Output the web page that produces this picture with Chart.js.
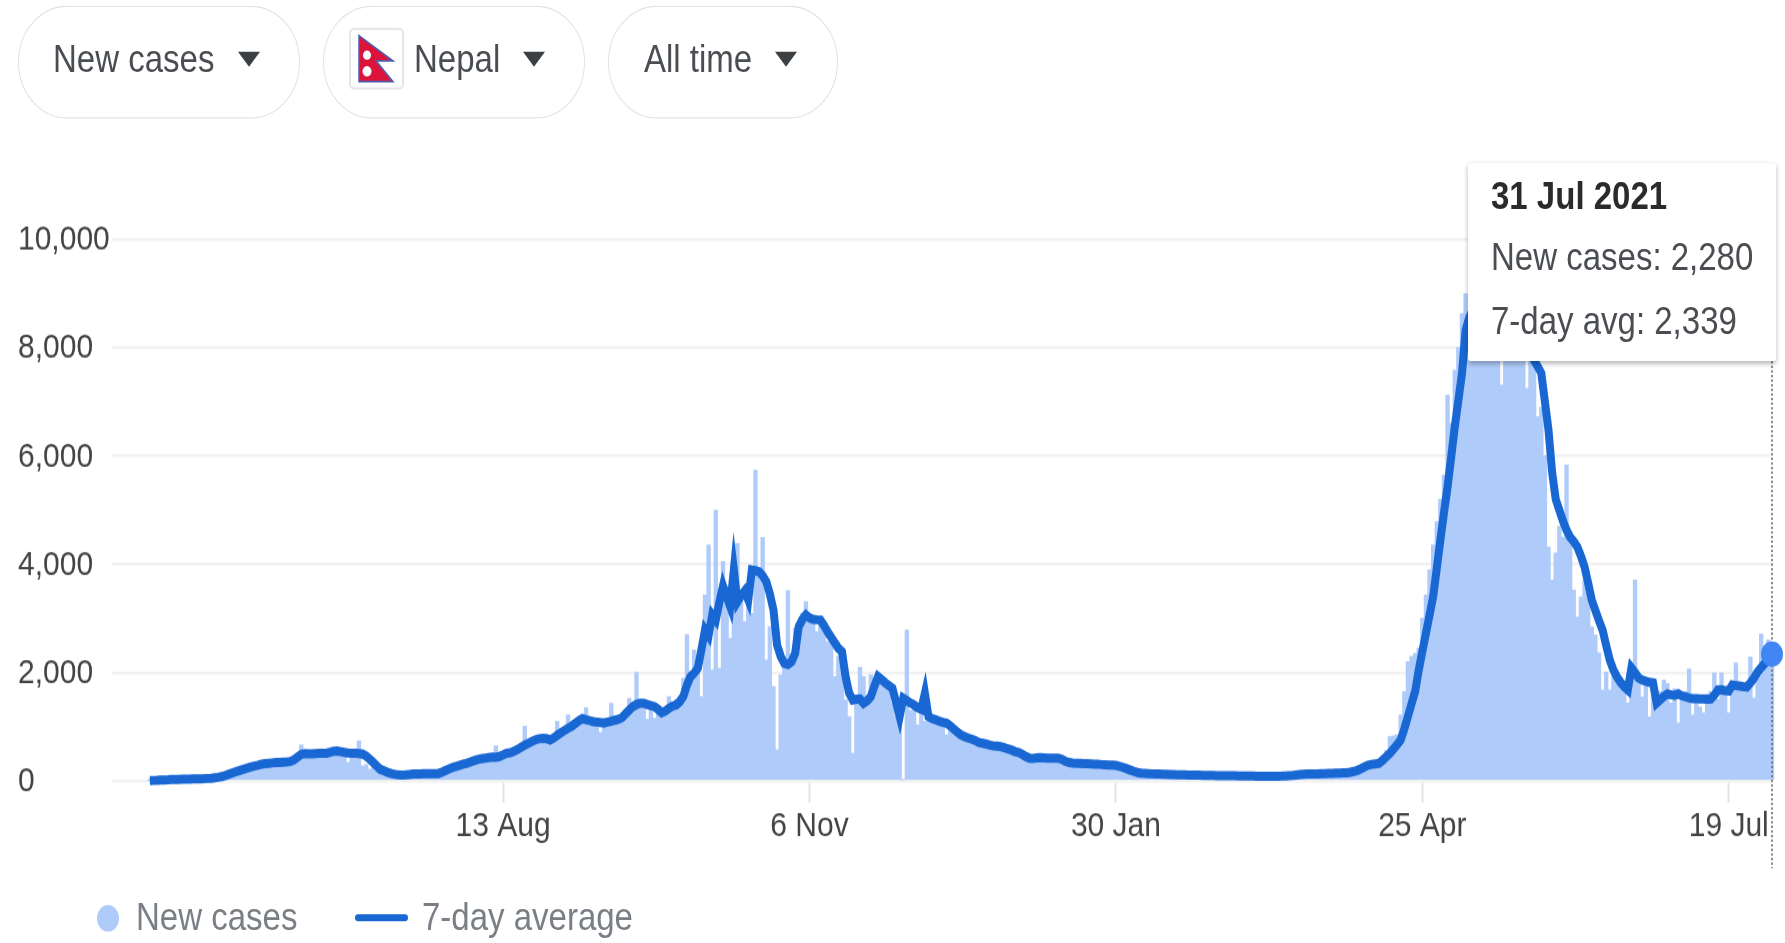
<!DOCTYPE html>
<html>
<head>
<meta charset="utf-8">
<script src="https://cdn.jsdelivr.net/npm/chart.js@4"></script>
<style>
  html, body { margin: 0; background: #fff; overflow: hidden; }
  #stage { position: absolute; left: 0; top: 0; width: 1785px; height: 820px; transform: scaleY(1.15); transform-origin: 0 0; font-family: "Liberation Sans", Arial, sans-serif; filter: blur(0.35px); }
  #myChart { position: absolute; left: 0; top: 0; }
  .pill { position: absolute; top: 5px; height: 98px; border: 1.5px solid #e0e2e6; border-radius: 52px; box-sizing: border-box; }
  .pill-text { position: absolute; top: 33px; font-size: 33px; line-height: 38px; color: #4a4d51; white-space: nowrap; }
  .arrow { position: absolute; top: 45px; width: 0; height: 0; border-left: 11.5px solid transparent; border-right: 11.5px solid transparent; border-top: 13px solid #3c4043; }
  .legend-text { position: absolute; top: 779px; font-size: 33px; line-height: 38px; color: #7a7f85; white-space: nowrap; }
  #tooltip { position: absolute; left: 1468px; top: 142px; width: 308px; height: 172px; background: #fff; border-radius: 3px; box-shadow: 0 2px 5px rgba(0,0,0,.28); }
  #tooltip div { position: absolute; left: 23px; font-size: 33px; line-height: 38px; color: #4a4d51; white-space: nowrap; }
</style>
</head>
<body>
<div id="stage">
  <canvas id="myChart" width="1785" height="820"></canvas>

  <div class="pill" style="left:18px;width:282px"></div>
  <div class="pill-text" style="left:53px">New cases</div>
  <div class="arrow" style="left:238px"></div>

  <div class="pill" style="left:323px;width:262px"></div>
  <svg style="position:absolute;left:349px;top:24px" width="55" height="54" viewBox="0 0 55 54">
    <rect x="1" y="1" width="53" height="52" rx="4" fill="#fff" stroke="#e6e6e6" stroke-width="2"/>
    <path d="M10 7 L44 29 L27 29 L44 47 L10 47 Z" fill="#dc143c" stroke="#4f5fb0" stroke-width="1.5"/>
    <circle cx="18" cy="24" r="4" fill="#fff"/>
    <circle cx="18" cy="38" r="4.5" fill="#fff"/>
  </svg>
  <div class="pill-text" style="left:414px">Nepal</div>
  <div class="arrow" style="left:523px"></div>

  <div class="pill" style="left:608px;width:230px"></div>
  <div class="pill-text" style="left:644px">All time</div>
  <div class="arrow" style="left:775px"></div>

  <div style="position:absolute;left:97px;top:787px;width:22px;height:23px;border-radius:50%;background:#aecbfa"></div>
  <div class="legend-text" style="left:136px">New cases</div>
  <div style="position:absolute;left:355px;top:795px;width:53px;height:6px;border-radius:3px;background:#1967d2"></div>
  <div class="legend-text" style="left:422px">7-day average</div>

  <div id="tooltip">
    <div id="tipDate" style="top:10px;font-weight:bold;color:#2b2b2b"></div>
    <div id="tipCases" style="top:63px"></div>
    <div id="tipAvg" style="top:118px"></div>
  </div>
</div>

<script>
// one value per day, index 0 is 7 May 2020, index 450 is 31 Jul 2021
const newCases = [
  3, 9, 7, 15, 19, 16, 28, 22, 31, 27,
  36, 30, 41, 33, 35, 46, 48, 41, 66, 72,
  88, 110, 132, 145, 190, 205, 222, 240, 248, 280,
  300, 312, 322, 318, 340, 330, 355, 340, 362, 380,
  430, 520, 664, 560, 470, 520, 480, 545, 510, 500,
  560, 540, 590, 510, 540, 338, 520, 480, 738, 277,
  300, 215, 330, 240, 200, 170, 160, 130, 115, 105,
  100, 120, 110, 130, 125, 140, 125, 145, 130, 150,
  140, 175, 210, 250, 240, 290, 300, 340, 330, 370,
  400, 385, 430, 415, 450, 460, 646, 420, 510, 550,
  500, 560, 600, 640, 1010, 700, 760, 790, 770, 800,
  800, 730, 850, 1100, 870, 960, 1218, 1030, 1080, 1140,
  1180, 1353, 1010, 1110, 1060, 892, 1050, 1110, 1433, 1090,
  1150, 1210, 1330, 1525, 1400, 2005, 1480, 1400, 1138, 1430,
  1156, 1360, 1220, 1330, 1556, 1400, 1500, 1500, 1894, 2700,
  1900, 2417, 2079, 1556, 3432, 4354, 2048, 5000, 2079, 4047,
  3600, 2632, 3700, 4385, 3400, 2940, 3300, 3093, 5738, 3800,
  4495, 2232, 2847, 1740, 572, 1956, 2200, 3511, 2250, 2816,
  2900, 3100, 3308, 3000, 3050, 2755, 3000, 2900, 2570, 2600,
  1925, 2300, 2200, 1494, 1187, 510, 1500, 2097, 1925, 1400,
  1956, 1800, 1900, 1850, 1750, 1700, 1433, 1187, 1400, 18,
  2786, 1300, 1350, 1033, 1250, 1100, 1350, 1180, 1120, 1050,
  1100, 849, 1050, 1000, 870, 880, 800, 810, 760, 780,
  700, 720, 650, 680, 620, 660, 610, 640, 560, 590,
  560, 500, 520, 430, 440, 400, 450, 400, 440, 410,
  430, 400, 370, 410, 350, 330, 345, 310, 340, 310,
  330, 300, 320, 295, 310, 280, 300, 280, 290, 260,
  260, 215, 210, 165, 160, 140, 148, 130, 135, 125,
  130, 118, 125, 115, 120, 110, 116, 105, 112, 102,
  108, 100, 106, 98, 104, 96, 100, 95, 98, 92,
  97, 90, 95, 88, 93, 86, 91, 85, 88, 83,
  86, 82, 88, 85, 92, 90, 100, 98, 115, 110,
  125, 120, 130, 125, 135, 130, 140, 135, 145, 140,
  150, 145, 160, 170, 190, 210, 250, 280, 300, 320,
  320, 340, 400, 560, 818, 830, 850, 1218, 1648, 2200,
  2300, 2355, 2450, 3000, 3431, 3900, 4354, 4785, 5200, 5646,
  7122, 6600, 7583, 8000, 8628, 8997, 8300, 8700, 9100, 8800,
  9000, 8700, 8900, 8800, 9200, 7306, 8900, 8500, 8800, 9000,
  8600, 8300, 7245, 8000, 7800, 6722, 6900, 6000, 4317, 3708,
  4206, 4700, 4502, 5830, 4600, 3524, 3026, 3395, 3700, 3600,
  2841, 2694, 2361, 1679, 2011, 1679, 2100, 1950, 1800, 1700,
  1439, 1800, 3708, 1800, 1550, 1900, 1180, 1750, 1500, 1650,
  1863, 1800, 1439, 1700, 1070, 1600, 1650, 2066, 1218, 1580,
  1365, 1255, 1600, 1650, 1993, 1500, 1993, 1700, 1255, 1800,
  2177, 1700, 1750, 1800, 2288, 1531, 2050, 2712, 2500, 2601,
  2280
];

const sevenDayAvg = [
  5, 8, 10, 14, 18, 20, 24, 26, 28, 30,
  32, 34, 35, 36, 38, 40, 45, 50, 58, 66,
  80, 100, 125, 150, 175, 195, 216, 235, 255, 275,
  290, 307, 318, 325, 332, 338, 342, 347, 350, 358,
  390, 440, 490, 505, 500, 498, 505, 510, 512, 510,
  530, 545, 553, 540, 525, 515, 510, 510, 505, 495,
  460, 400, 340, 270, 210, 184, 155, 135, 120, 110,
  108, 112, 118, 125, 128, 130, 132, 133, 135, 135,
  135, 160, 190, 220, 250, 270, 290, 310, 326, 350,
  375, 395, 410, 420, 430, 440, 437, 450, 480, 510,
  520, 545, 580, 620, 660, 695, 730, 760, 778, 787,
  780, 756, 790, 840, 890, 930, 970, 1010, 1060, 1110,
  1150, 1130, 1110, 1095, 1085, 1076, 1070, 1085, 1100, 1120,
  1138, 1170, 1240, 1310, 1370, 1410, 1433, 1433, 1410, 1390,
  1370, 1320, 1260, 1290, 1340, 1380, 1400, 1463, 1560, 1770,
  1925, 1990, 2079, 2417, 2786, 2680, 3063, 2970, 3300, 3598,
  3400, 3216, 3893, 3308, 3420, 3505, 3340, 3893, 3880, 3862,
  3790, 3678, 3450, 3155, 2510, 2300, 2170, 2150, 2200, 2350,
  2847, 2980, 3063, 3010, 2983, 2975, 2970, 2870, 2755, 2650,
  2550, 2450, 2386, 1925, 1620, 1494, 1506, 1510, 1433, 1480,
  1556, 1750, 1925, 1870, 1810, 1760, 1710, 1450, 1187, 1525,
  1480, 1440, 1400, 1350, 1322, 1617, 1187, 1150, 1130, 1100,
  1080, 1064, 1020, 960, 900, 850, 818, 790, 770, 745,
  710, 695, 680, 660, 645, 640, 633, 615, 590, 570,
  540, 523, 490, 450, 418, 415, 425, 430, 425, 420,
  420, 418, 418, 400, 360, 338, 330, 325, 325, 320,
  320, 315, 310, 310, 300, 295, 290, 290, 285, 270,
  250, 225, 200, 175, 155, 145, 140, 135, 130, 128,
  125, 122, 120, 118, 116, 114, 112, 110, 108, 106,
  105, 104, 103, 102, 100, 99, 98, 97, 96, 95,
  94, 93, 92, 91, 90, 89, 88, 87, 86, 85,
  84, 84, 84, 86, 88, 92, 96, 100, 108, 115,
  120, 125, 126, 128, 130, 133, 135, 138, 140, 142,
  145, 147, 150, 160, 175, 195, 225, 260, 290, 305,
  315, 326, 380, 445, 510, 590, 670, 756, 960, 1187,
  1420, 1648, 2048, 2390, 2724, 3060, 3400, 3920, 4446, 4950,
  5430, 5980, 6537, 7030, 7521, 8320, 8550, 8700, 8800, 8860,
  8900, 8930, 8950, 8960, 8950, 8930, 8900, 8860, 8800, 8720,
  8600, 8400, 8200, 7950, 7767, 7650, 7530, 7000, 6476, 5700,
  5200, 5000, 4800, 4631, 4500, 4420, 4317, 4150, 3948, 3650,
  3340, 3150, 2960, 2786, 2500, 2232, 2050, 1919, 1820, 1740,
  1679, 2085, 2000, 1900, 1863, 1840, 1820, 1808, 1439, 1500,
  1560, 1605, 1590, 1580, 1605, 1570, 1550, 1531, 1520, 1520,
  1515, 1513, 1510, 1513, 1580, 1679, 1680, 1665, 1660, 1771,
  1760, 1750, 1740, 1734, 1810, 1900, 2011, 2090, 2170, 2260,
  2339
];

const tickDays = [98, 183, 268, 353, 438];
const tickLabels = ["13 Aug", "6 Nov", "30 Jan", "25 Apr", "19 Jul"];
const lastDate = "31 Jul 2021";
const lastDay = newCases.length - 1;

const tickFont = { family: "'Liberation Sans', Arial, sans-serif", size: 30 };

// dotted line under the hovered point
const hoverLine = {
  id: "hoverLine",
  afterDatasetDraw(chart, args) {
    if (args.index !== 0) return;
    const x = chart.scales.x.getPixelForValue(lastDay);
    const ctx = chart.ctx;
    ctx.save();
    ctx.strokeStyle = "#666";
    ctx.lineWidth = 1.5;
    ctx.setLineDash([2, 2]);
    ctx.beginPath();
    ctx.moveTo(x, 314);
    ctx.lineTo(x, 755);
    ctx.stroke();
    ctx.restore();
  },
};

new Chart(document.getElementById("myChart"), {
  type: "bar",
  data: {
    datasets: [
      {
        type: "bar",
        label: "New cases",
        data: newCases.map((v, i) => ({ x: i, y: v })),
        backgroundColor: "#aecbfa",
        barThickness: 3.7,
        order: 2,
        clip: false,
      },
      {
        type: "line",
        label: "7-day average",
        data: sevenDayAvg.map((v, i) => ({ x: i, y: v })),
        borderColor: "#1967d2",
        borderWidth: 8,
        borderJoinStyle: "miter",
        tension: 0,
        pointRadius: (ctx) => (ctx.dataIndex === lastDay ? 11 : 0),
        pointBackgroundColor: "#4285f4",
        pointBorderWidth: 0,
        order: 1,
        clip: false,
      },
    ],
  },
  options: {
    responsive: false,
    animation: false,
    events: [],
    layout: { padding: { left: 18, top: 208, right: 13, bottom: 0 } },
    plugins: { legend: { display: false }, tooltip: { enabled: false }, title: { display: false } },
    scales: {
      x: {
        type: "linear",
        offset: false,
        min: -10.5,
        max: lastDay,
        afterBuildTicks: (scale) => {
          scale.ticks = tickDays.map((d) => ({ value: d }));
        },
        afterFit: (scale) => {
          scale.height = 141;
        },
        border: { display: false },
        grid: { offset: false, drawOnChartArea: false, drawTicks: true, tickLength: 19, tickWidth: 2, tickColor: "#e2e2e2" },
        ticks: {
          autoSkip: false,
          maxRotation: 0,
          padding: 3,
          color: "#444",
          font: tickFont,
          callback: (value) => tickLabels[tickDays.indexOf(value)],
        },
      },
      y: {
        min: 0,
        max: 10000,
        afterFit: (scale) => {
          scale.width = 94;
        },
        border: { display: false },
        grid: { color: "#f1f1f1", lineWidth: 2.6, drawTicks: false },
        ticks: {
          stepSize: 2000,
          crossAlign: "far",
          labelOffset: 1,
          color: "#444",
          font: tickFont,
          callback: (value) => value.toLocaleString("en-US"),
        },
      },
    },
  },
  plugins: [hoverLine],
});

document.getElementById("tipDate").textContent = lastDate;
document.getElementById("tipCases").textContent = "New cases: " + newCases[lastDay].toLocaleString("en-US");
document.getElementById("tipAvg").textContent = "7-day avg: " + sevenDayAvg[lastDay].toLocaleString("en-US");
</script>
</body>
</html>
